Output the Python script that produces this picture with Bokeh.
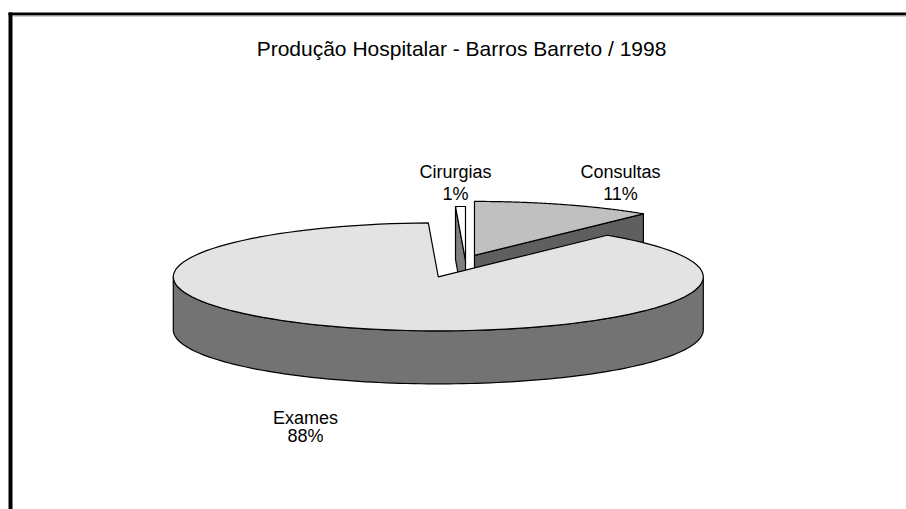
import numpy as np
from bokeh.plotting import figure
from bokeh.models import Range1d
from bokeh.core.properties import value
from bokeh.embed import file_html
from bokeh.resources import INLINE

# ---- data ----
categories = ["Consultas", "Exames", "Cirurgias"]   # clockwise from 12 o'clock
values = [11.0, 88.4, 0.6]
explode = [0.10, 0.32, 0.0]
title_text = "Produção Hospitalar - Barros Barreto / 1998"

# ---- styles / layout ----
top_colors = {"Consultas": "#c0c0c0", "Exames": "#e3e3e3", "Cirurgias": "#ffffff"}
side_colors = {"Consultas": "#5f5f5f", "Exames": "#737373", "Cirurgias": "#808080"}
# (x centre, baseline of name, baseline of percentage)
label_pos = {"Consultas": (620, 171, 193), "Cirurgias": (455, 171, 193), "Exames": (305, 417, 435)}
CX, CY = 465.0, 260.0     # pie centre (page pixels)
A, B = 265.0, 54.0        # ellipse semi axes
DEPTH = 53.0
FONT = "Liberation Sans"

W, H = 906, 509
p = figure(width=W, height=H, x_range=Range1d(0, W), y_range=Range1d(H, 0),
           output_backend="svg", toolbar_location=None, min_border=0)
p.axis.visible = False
p.grid.visible = False
p.outline_line_color = None
p.background_fill_color = "white"
p.border_fill_color = "white"

# frame (only left and top edges fall inside the window)
p.quad(left=[8], right=[12], top=[12], bottom=[520], fill_color="black", line_color=None)
p.quad(left=[8], right=[920], top=[12], bottom=[15], fill_color="black", line_color=None)
p.quad(left=[12], right=[920], top=[15], bottom=[16], fill_color="#a0a0a0", line_color=None)

total = sum(values)
# slice angles (degrees, counter-clockwise from +x), laid out clockwise from 90
slices = {}
start = 90.0
for cat, v, e in zip(categories, values, explode):
    span = v / total * 360.0
    t_hi = start
    t_lo = start - span
    mid = np.radians((t_hi + t_lo) / 2)
    ox = CX + e * A * np.cos(mid)
    oy = CY - e * B * np.sin(mid)
    slices[cat] = dict(lo=t_lo, hi=t_hi, ox=ox, oy=oy, v=v)
    start = t_lo


def pt(s, t, dz=0.0):
    r = np.radians(t)
    return s["ox"] + A * np.cos(r), s["oy"] - B * np.sin(r) + dz


def arc(s, t0, t1, dz=0.0, n=120):
    ts = np.radians(np.linspace(t0, t1, n))
    return list(s["ox"] + A * np.cos(ts)), list(s["oy"] - B * np.sin(ts) + dz)


def draw_poly(xs, ys, color):
    p.patch(xs, ys, fill_color=color, line_color="black", line_width=1.2, line_join="round")


def radial_face(s, t, color):
    x1, y1 = pt(s, t)
    xs = [s["ox"], x1, x1, s["ox"]]
    ys = [s["oy"], y1, y1 + DEPTH, s["oy"] + DEPTH]
    draw_poly(xs, ys, color)


def top_face(s, color):
    ax, ay = arc(s, s["lo"], s["hi"])
    draw_poly([s["ox"]] + ax, [s["oy"]] + ay, color)


def outer_side(s, color):
    # visible front part of the rim (angles 180..360 modulo 360)
    lo, hi = s["lo"], s["hi"]
    for k in (-720, -360, 0, 360):
        a0 = max(lo, 180 + k)
        a1 = min(hi, 360 + k)
        if a1 > a0:
            tx, ty = arc(s, a0, a1)
            bx, by = arc(s, a1, a0, dz=DEPTH)
            draw_poly(tx + bx, ty + by, color)


def visible_radials(s):
    out = []
    for t, sign in ((s["lo"], -1), (s["hi"], 1)):
        nrm = np.radians(t + sign * 90)
        if np.sin(nrm) < -1e-3:
            out.append(t)
    return out


# back slices first, front (big exploded) slice last
order = ["Consultas", "Cirurgias", "Exames"]
for cat in order:
    s = slices[cat]
    for t in visible_radials(s):
        radial_face(s, t, side_colors[cat])
    outer_side(s, side_colors[cat])
    top_face(s, top_colors[cat])

# labels
for cat in categories:
    x, y1, y2 = label_pos[cat]
    pct = f"{round(slices[cat]['v'] / total * 100)}%"
    p.text(x=[x], y=[y1], text=[cat], text_align="center", text_baseline="alphabetic",
           text_font=value(FONT), text_font_size="18px", text_color="black")
    p.text(x=[x], y=[y2], text=[pct], text_align="center", text_baseline="alphabetic",
           text_font=value(FONT), text_font_size="18px", text_color="black")

p.text(x=[461], y=[48], text=[title_text], text_align="center", text_baseline="alphabetic",
       text_font=value(FONT), text_font_size="21px", text_color="black")

open("out.html", "w").write(file_html(p, INLINE))
